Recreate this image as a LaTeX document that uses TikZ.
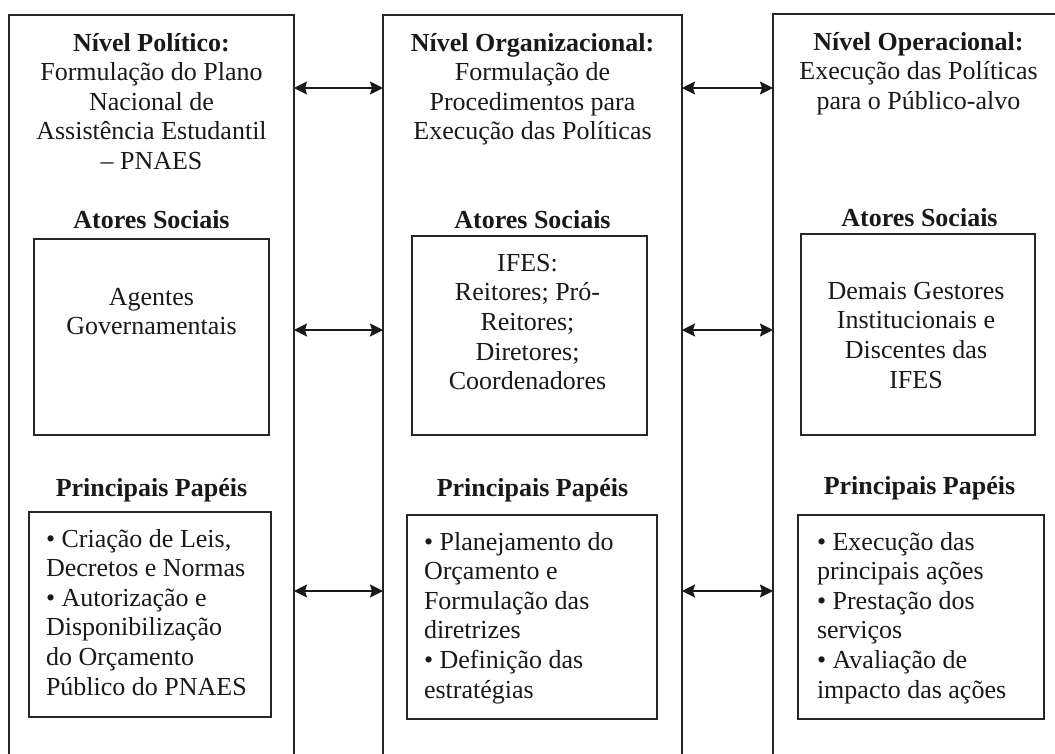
\documentclass[tikz,border=0pt]{standalone}
\usepackage{fontspec}
\setmainfont{Liberation Serif}
\usetikzlibrary{positioning,arrows.meta}

\tikzset{
  column/.style={draw=black!85, line width=1.1pt, anchor=north west, inner sep=0pt, outer sep=0pt, minimum height=800pt},
  framebox/.style={draw=black!85, line width=1.2pt, anchor=north west, inner sep=0pt, outer sep=0pt},
  txt/.style={font=\fontsize{26}{29.6}\selectfont, align=center, inner sep=0pt, outer sep=0pt, text=black!90},
  head/.style={txt, font=\fontsize{26}{29.6}\selectfont\bfseries},
  items/.style={txt, align=left, anchor=north west},
  tip/.tip={Stealth[length=13pt,width=13pt,inset=2pt]},
  twoway/.style={arrows={tip-tip}, line width=1.6pt, draw=black!90}
}

\begin{document}
\begin{tikzpicture}[x=1pt,y=1pt]
    \path[use as bounding box, clip] (0,0) rectangle (1055,-753);
    % the three levels
    \node[column, minimum width=285pt] (pol) at (9,-15) {};
    \node[column, minimum width=299pt] (org) at (383,-15) {};
    \node[column, minimum width=295pt] (ope) at (773,-14) {};
    \node[txt, below=18pt of pol.north] (poltitle) {\textbf{Nível Político:}\\Formulação do Plano\\Nacional de\\Assistência Estudantil\\– PNAES};
    \node[txt, below=18pt of org.north] (orgtitle) {\textbf{Nível Organizacional:}\\Formulação de\\Procedimentos para\\Execução das Políticas};
    \node[txt, below=18pt of ope.north, xshift=-2pt] (opetitle) {\textbf{Nível Operacional:}\\Execução das Políticas\\para o Público-alvo};
    % atores sociais
    \node[head, below=195pt of pol.north] (polhead) {Atores Sociais};
    \node[head, below=195pt of org.north] (orghead) {Atores Sociais};
    \node[head, below=194pt of ope.north, xshift=-1pt] (opehead) {Atores Sociais};
    \node[framebox, minimum width=235pt, minimum height=196pt] (polactors) at (34,-239) {};
    \node[framebox, minimum width=235pt, minimum height=199pt] (orgactors) at (412,-236) {};
    \node[framebox, minimum width=234pt, minimum height=201pt] (opeactors) at (801,-234) {};
    \node[txt, below=49pt of polactors.north] (polactorstext) {Agentes\\Governamentais};
    \node[txt, below=18pt of orgactors.north, xshift=-2pt] (orgactorstext) {IFES:\\Reitores; Pró-\\Reitores;\\Diretores;\\Coordenadores};
    \node[txt, below=48pt of opeactors.north, xshift=-2pt] (opeactorstext) {Demais Gestores\\Institucionais e\\Discentes das\\IFES};
    % principais papeis
    \node[head, below=463pt of pol.north] (polroleshead) {Principais Papéis};
    \node[head, below=463pt of org.north] (orgroleshead) {Principais Papéis};
    \node[head, below=462pt of ope.north, xshift=-1pt] (operoleshead) {Principais Papéis};
    \node[framebox, minimum width=242pt, minimum height=205pt] (polroles) at (29,-512) {};
    \node[framebox, minimum width=250pt, minimum height=204pt] (orgroles) at (407,-515) {};
    \node[framebox, minimum width=246pt, minimum height=204pt] (operoles) at (798,-515) {};
    \node[items, below right=17pt and 17pt of polroles.north west] (polrolestext) {\textbullet\ Criação de Leis,\\Decretos e Normas\\\textbullet\ Autorização e\\Disponibilização\\do Orçamento\\Público do PNAES};
    \node[items, below right=17pt and 17pt of orgroles.north west] (orgrolestext) {\textbullet\ Planejamento do\\Orçamento e\\Formulação das\\diretrizes\\\textbullet\ Definição das\\estratégias};
    \node[items, below right=17pt and 19pt of operoles.north west] (operolestext) {\textbullet\ Execução das\\principais ações\\\textbullet\ Prestação dos\\serviços\\\textbullet\ Avaliação de\\impacto das ações};
    % links between levels
    \coordinate (rowa) at (0,-88);
    \coordinate (rowb) at (0,-330);
    \coordinate (rowc) at (0,-591);
    \foreach \r in {rowa,rowb,rowc} {
        \draw[twoway] (pol.east |- \r) -- (org.west |- \r);
        \draw[twoway] (org.east |- \r) -- (ope.west |- \r);
    }
\end{tikzpicture}
\end{document}
